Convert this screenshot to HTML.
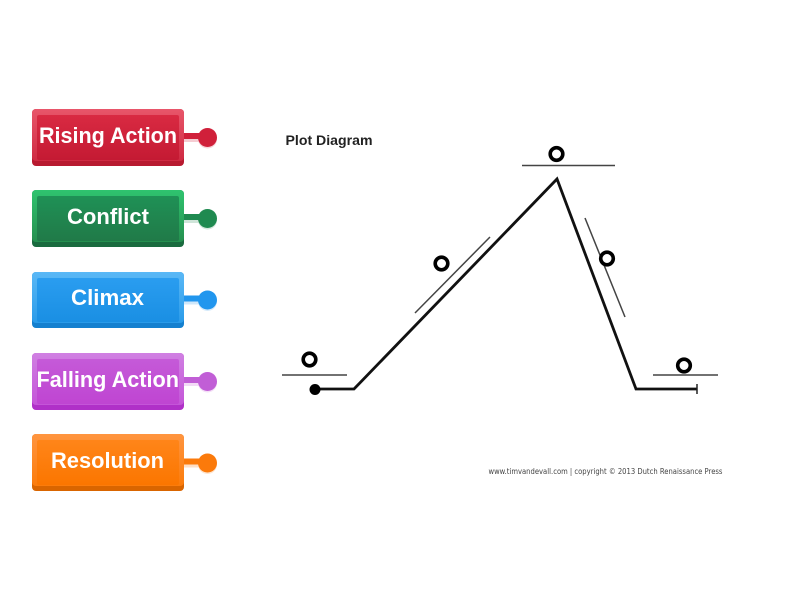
<!DOCTYPE html>
<html><head><meta charset="utf-8"><style>
html,body{margin:0;padding:0;background:#fff;width:800px;height:600px;overflow:hidden}
svg{display:block}
.b{font-family:"Liberation Sans",sans-serif;font-weight:bold;font-size:22px;fill:#fff}
</style></head><body>
<svg width="800" height="600" viewBox="0 0 800 600">
<defs>
<linearGradient id="r" x1="0" y1="0" x2="0" y2="1"><stop offset="0" stop-color="#d92a42"/><stop offset="1" stop-color="#c41a33"/></linearGradient>
<linearGradient id="g" x1="0" y1="0" x2="0" y2="1"><stop offset="0" stop-color="#1f9156"/><stop offset="1" stop-color="#207a48"/></linearGradient>
<linearGradient id="u" x1="0" y1="0" x2="0" y2="1"><stop offset="0" stop-color="#2a9df0"/><stop offset="1" stop-color="#1a8fe3"/></linearGradient>
<linearGradient id="p" x1="0" y1="0" x2="0" y2="1"><stop offset="0" stop-color="#c55ad8"/><stop offset="1" stop-color="#bf45d2"/></linearGradient>
<linearGradient id="o" x1="0" y1="0" x2="0" y2="1"><stop offset="0" stop-color="#ff8519"/><stop offset="1" stop-color="#fb7600"/></linearGradient>
<linearGradient id="r2" x1="0" y1="0" x2="0" y2="1"><stop offset="0" stop-color="#e8566a"/><stop offset="1" stop-color="#cf2a42"/></linearGradient>
<linearGradient id="g2" x1="0" y1="0" x2="0" y2="1"><stop offset="0" stop-color="#2fc46f"/><stop offset="1" stop-color="#25904f"/></linearGradient>
<linearGradient id="u2" x1="0" y1="0" x2="0" y2="1"><stop offset="0" stop-color="#5ab8f6"/><stop offset="1" stop-color="#2a9be9"/></linearGradient>
<linearGradient id="p2" x1="0" y1="0" x2="0" y2="1"><stop offset="0" stop-color="#d080e2"/><stop offset="1" stop-color="#c455d8"/></linearGradient>
<linearGradient id="o2" x1="0" y1="0" x2="0" y2="1"><stop offset="0" stop-color="#ff9540"/><stop offset="1" stop-color="#fb7c0c"/></linearGradient>
</defs>

<!-- Rising Action -->
<rect x="184" y="135" width="20" height="7" fill="#f5ccd2"/><circle cx="207.500" cy="139" r="9.500" fill="#f7d5da"/>
<rect x="184" y="133" width="20" height="6" fill="#d0203a"/><circle cx="207.500" cy="137.500" r="9.500" fill="#d0203a"/>
<rect x="32" y="109" width="152" height="57" rx="4" fill="#b81a30"/>
<rect x="32" y="109" width="152" height="52" rx="4" fill="url(#r2)"/>
<rect x="37" y="115" width="142" height="45" rx="2" fill="url(#r)"/>
<text class="b" x="39" y="143" textLength="138" lengthAdjust="spacingAndGlyphs">Rising Action</text>

<!-- Conflict -->
<rect x="184" y="216" width="20" height="7" fill="#cfe5d9"/><circle cx="207.500" cy="220" r="9.500" fill="#d3e8dc"/>
<rect x="184" y="214" width="20" height="6" fill="#1f8a50"/><circle cx="207.500" cy="218.500" r="9.500" fill="#1f8a50"/>
<rect x="32" y="190" width="152" height="57" rx="4" fill="#1a6b3f"/>
<rect x="32" y="190" width="152" height="52" rx="4" fill="url(#g2)"/>
<rect x="37" y="196" width="142" height="45" rx="2" fill="url(#g)"/>
<text class="b" x="67" y="224" textLength="82" lengthAdjust="spacingAndGlyphs">Conflict</text>

<!-- Climax -->
<rect x="184" y="297.500" width="20" height="7" fill="#cfe7fa"/><circle cx="207.500" cy="301.500" r="9.500" fill="#d5eafb"/>
<rect x="184" y="295.500" width="20" height="6" fill="#2196ee"/><circle cx="207.500" cy="300" r="9.500" fill="#2196ee"/>
<rect x="32" y="272" width="152" height="56" rx="4" fill="#1580cf"/>
<rect x="32" y="272" width="152" height="51" rx="4" fill="url(#u2)"/>
<rect x="37" y="278" width="142" height="44" rx="2" fill="url(#u)"/>
<text class="b" x="71" y="305" textLength="73" lengthAdjust="spacingAndGlyphs">Climax</text>

<!-- Falling Action -->
<rect x="184" y="379" width="20" height="7" fill="#f2daf6"/><circle cx="207.500" cy="383" r="9.500" fill="#f4e0f7"/>
<rect x="184" y="377" width="20" height="6" fill="#c15ed6"/><circle cx="207.500" cy="381.500" r="9.500" fill="#c15ed6"/>
<rect x="32" y="353" width="152" height="57" rx="4" fill="#b030c8"/>
<rect x="32" y="353" width="152" height="52" rx="4" fill="url(#p2)"/>
<rect x="37" y="359" width="142" height="45" rx="2" fill="url(#p)"/>
<text class="b" x="36.500" y="387" textLength="142.500" lengthAdjust="spacingAndGlyphs">Falling Action</text>

<!-- Resolution -->
<rect x="184" y="460.500" width="20" height="7" fill="#fedfc6"/><circle cx="207.500" cy="464.500" r="9.500" fill="#fee4cf"/>
<rect x="184" y="458.500" width="20" height="6" fill="#fb7a0b"/><circle cx="207.500" cy="463" r="9.500" fill="#fb7a0b"/>
<rect x="32" y="434" width="152" height="57" rx="4" fill="#d96500"/>
<rect x="32" y="434" width="152" height="52" rx="4" fill="url(#o2)"/>
<rect x="37" y="440" width="142" height="45" rx="2" fill="url(#o)"/>
<text class="b" x="51" y="468" textLength="113" lengthAdjust="spacingAndGlyphs">Resolution</text>

<!-- Diagram -->
<text x="285.500" y="145" font-family="Liberation Sans,sans-serif" font-weight="bold" font-size="13.500" fill="#222" textLength="87" lengthAdjust="spacingAndGlyphs">Plot Diagram</text>
<polyline points="315,389 354,389 557,179 636,389 697,389" fill="none" stroke="#111" stroke-width="2.800"/>
<circle cx="315" cy="389.500" r="5.500" fill="#000"/>
<line x1="697" y1="384" x2="697" y2="394" stroke="#222" stroke-width="1.500"/>
<g stroke="#444" stroke-width="1.500" fill="none">
<line x1="282" y1="375" x2="347" y2="375"/>
<line x1="522" y1="165.500" x2="615" y2="165.500"/>
<line x1="653" y1="375" x2="718" y2="375"/>
<line x1="415" y1="313" x2="490" y2="237"/>
<line x1="585" y1="218" x2="625" y2="317"/>
</g>
<g fill="#fff" stroke="#000" stroke-width="3.600">
<circle cx="309.500" cy="359.500" r="6.300"/>
<circle cx="556.500" cy="154" r="6.300"/>
<circle cx="441.500" cy="263.500" r="6.300"/>
<circle cx="607" cy="258.500" r="6.300"/>
<circle cx="684" cy="365.500" r="6.300"/>
</g>
<text x="488.500" y="474" font-family="DejaVu Sans,sans-serif" font-size="7.500" fill="#444" textLength="234" lengthAdjust="spacingAndGlyphs">www.timvandevall.com | copyright © 2013 Dutch Renaissance Press</text>
</svg>
</body></html>
